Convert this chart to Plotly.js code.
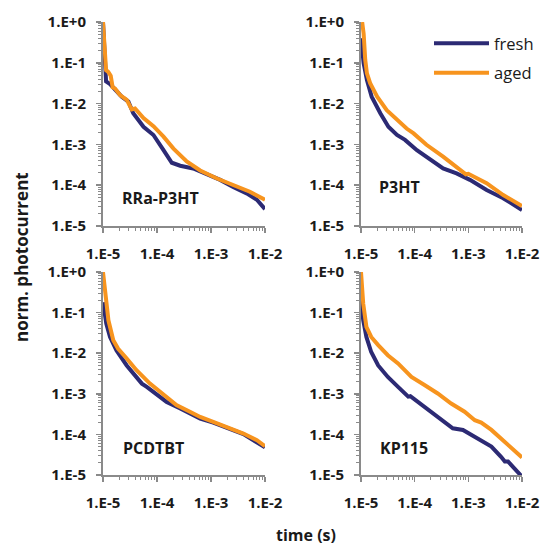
<!DOCTYPE html>
<html>
<head>
<meta charset="utf-8">
<script src="https://cdn.plot.ly/plotly-3.0.1.min.js"></script>
<style>html,body{margin:0;padding:0;background:#fff;}#chart{width:542px;height:546px;}</style>
</head>
<body>
<div id="chart"></div>
<script>
// ---- data (time in s, normalised photocurrent) ----
const panelNames = ["RRa-P3HT", "P3HT", "PCDTBT", "KP115"];
const seriesNames = ["fresh", "aged"];

// RRa-P3HT
const rraFreshT = [1.0e-5, 1.09e-5, 1.14e-5, 1.35e-5, 1.67e-5, 2.22e-5, 2.95e-5, 3.63e-5, 5.62e-5, 8.59e-5, 1.32e-4, 1.88e-4, 2.69e-4, 4.68e-4, 8.32e-4, 1.48e-3, 2.57e-3, 4.57e-3, 7.08e-3, 1.0e-2];
const rraFreshI = [1.0, 0.046, 0.035, 0.030, 0.0224, 0.0148, 0.0112, 0.0058, 0.0027, 0.0017, 7.2e-4, 3.55e-4, 3.0e-4, 2.57e-4, 1.86e-4, 1.35e-4, 9.1e-5, 6.3e-5, 4.4e-5, 2.6e-5];
const rraAgedT = [1.0e-5, 1.14e-5, 1.25e-5, 1.39e-5, 1.51e-5, 1.67e-5, 2.07e-5, 2.75e-5, 3.40e-5, 3.92e-5, 5.62e-5, 8.59e-5, 1.32e-4, 2.02e-4, 3.55e-4, 6.31e-4, 1.26e-3, 2.57e-3, 5.25e-3, 1.0e-2];
const rraAgedI = [1.0, 0.066, 0.060, 0.048, 0.025, 0.0234, 0.0162, 0.0123, 0.0072, 0.0076, 0.0044, 0.0028, 0.00155, 7.9e-4, 3.8e-4, 2.3e-4, 1.48e-4, 1.0e-4, 6.9e-5, 4.4e-5];

// P3HT
const p3htFreshT = [1.0e-5, 1.12e-5, 1.29e-5, 1.58e-5, 2.29e-5, 3.24e-5, 4.68e-5, 6.61e-5, 1.10e-4, 1.95e-4, 3.39e-4, 6.03e-4, 1.07e-3, 2.19e-3, 4.47e-3, 1.0e-2];
const p3htFreshI = [0.40, 0.098, 0.038, 0.0148, 0.0058, 0.0027, 0.0017, 0.00129, 7.2e-4, 4.2e-4, 2.57e-4, 1.95e-4, 1.35e-4, 7.6e-5, 4.8e-5, 2.45e-5];
const p3htAgedT = [1.05e-5, 1.12e-5, 1.20e-5, 1.29e-5, 1.48e-5, 2.0e-5, 3.02e-5, 4.68e-5, 7.08e-5, 9.55e-5, 1.66e-4, 3.39e-4, 6.03e-4, 9.0e-4, 1.0e-3, 2.19e-3, 4.47e-3, 1.0e-2];
const p3htAgedI = [1.0, 0.52, 0.117, 0.055, 0.0316, 0.0148, 0.0069, 0.0040, 0.00245, 0.00186, 9.8e-4, 5.0e-4, 2.8e-4, 1.85e-4, 1.9e-4, 1.12e-4, 5.75e-5, 3.1e-5];

// PCDTBT
const pcdFreshT = [1.0e-5, 1.15e-5, 1.35e-5, 1.78e-5, 2.75e-5, 4.17e-5, 5.25e-5, 6.46e-5, 1.0e-4, 1.51e-4, 2.69e-4, 4.68e-4, 6.31e-4, 1.10e-3, 1.95e-3, 3.98e-3, 1.0e-2];
const pcdFreshI = [0.18, 0.054, 0.025, 0.0117, 0.0050, 0.0026, 0.00178, 0.00148, 9.3e-4, 6.3e-4, 4.37e-4, 3.02e-4, 2.45e-4, 1.95e-4, 1.48e-4, 1.02e-4, 4.8e-5];
const pcdAgedT = [1.0e-5, 1.09e-5, 1.26e-5, 1.55e-5, 1.91e-5, 2.75e-5, 4.17e-5, 7.41e-5, 1.32e-4, 2.29e-4, 4.07e-4, 6.31e-4, 1.10e-3, 1.95e-3, 3.98e-3, 7.08e-3, 1.0e-2];
const pcdAgedI = [1.0, 0.355, 0.0646, 0.0209, 0.0129, 0.0074, 0.0038, 0.00178, 9.3e-4, 5.25e-4, 3.63e-4, 2.69e-4, 2.04e-4, 1.55e-4, 1.05e-4, 7.2e-5, 5.1e-5];

// KP115
const kpFreshT = [1.0e-5, 1.10e-5, 1.26e-5, 1.55e-5, 2.09e-5, 3.16e-5, 4.90e-5, 6.92e-5, 7.59e-5, 8.3e-5, 1.15e-4, 2.04e-4, 3.63e-4, 5.13e-4, 7.94e-4, 1.15e-3, 1.74e-3, 2.69e-3, 4.07e-3, 4.79e-3, 5.50e-3, 7.24e-3, 1.0e-2];
const kpFreshI = [0.20, 0.0646, 0.0251, 0.0107, 0.0050, 0.0026, 0.00148, 9.3e-4, 8.5e-4, 8.7e-4, 6.3e-4, 3.63e-4, 2.04e-4, 1.41e-4, 1.29e-4, 9.5e-5, 7.2e-5, 5.0e-5, 2.8e-5, 2.14e-5, 2.14e-5, 1.45e-5, 9.1e-6];
const kpAgedT = [1.0e-5, 1.10e-5, 1.26e-5, 1.55e-5, 2.09e-5, 3.16e-5, 4.90e-5, 8.71e-5, 1.55e-4, 2.69e-4, 4.79e-4, 8.51e-4, 1.32e-3, 1.74e-3, 2.69e-3, 4.79e-3, 7.24e-3, 1.0e-2];
const kpAgedI = [1.0, 0.166, 0.0447, 0.0251, 0.0158, 0.0089, 0.0056, 0.0026, 0.00162, 0.00102, 5.75e-4, 3.63e-4, 2.24e-4, 1.95e-4, 1.29e-4, 6.6e-5, 4.07e-5, 2.7e-5];

// tick labels
const xTickVals = [1e-5, 1e-4, 1e-3, 1e-2];
const xTickText = ["1.E-5", "1.E-4", "1.E-3", "1.E-2"];
const yTickVals = [1e-5, 1e-4, 1e-3, 1e-2, 1e-1, 1];
const yTickText = ["1.E-5", "1.E-4", "1.E-3", "1.E-2", "1.E-1", "1.E+0"];

const xTitle = "time (s)";
const yTitle = "norm. photocurrent";

// ---- styling ----
const FONT = "'Open Sans', Lato, sans-serif";
const NAVY = "#2c2a74";
const ORANGE = "#f7941e";
const AXC = "#8a8a8a";
const TXT = "#1a1a1a";

const panels = [
  {fresh: [rraFreshT, rraFreshI], aged: [rraAgedT, rraAgedI]},
  {fresh: [p3htFreshT, p3htFreshI], aged: [p3htAgedT, p3htAgedI]},
  {fresh: [pcdFreshT, pcdFreshI], aged: [pcdAgedT, pcdAgedI]},
  {fresh: [kpFreshT, kpFreshI], aged: [kpAgedT, kpAgedI]}
];

const W = 542, H = 546;
const xDom = [[103 / W, 265 / W], [361 / W, 522 / W], [103 / W, 265 / W], [361 / W, 522 / W]];
const yDom = [[1 - 226 / H, 1 - 22 / H], [1 - 226 / H, 1 - 22 / H], [1 - 475 / H, 1 - 272 / H], [1 - 475 / H, 1 - 272 / H]];

const traces = [];
panels.forEach((p, i) => {
  const s = i === 0 ? "" : String(i + 1);
  traces.push({
    x: p.fresh[0], y: p.fresh[1], xaxis: "x" + s, yaxis: "y" + s,
    type: "scatter", mode: "lines", name: seriesNames[0],
    line: {color: NAVY, width: 4}, showlegend: i === 0, legendgroup: "f"
  });
  traces.push({
    x: p.aged[0], y: p.aged[1], xaxis: "x" + s, yaxis: "y" + s,
    type: "scatter", mode: "lines", name: seriesNames[1],
    line: {color: ORANGE, width: 4}, showlegend: i === 0, legendgroup: "a"
  });
});

const tickFont = {family: FONT, size: 15, color: TXT, weight: "bold"};
const layout = {
  width: W, height: H,
  margin: {l: 0, r: 0, t: 0, b: 0},
  paper_bgcolor: "#fff", plot_bgcolor: "#fff",
  showlegend: true,
  legend: {
    x: 429 / W, y: 1 - 26 / H, xanchor: "left", yanchor: "top",
    font: {family: FONT, size: 16.5, color: TXT},
    bgcolor: "rgba(0,0,0,0)", itemwidth: 55, tracegroupgap: 5,
    traceorder: "grouped"
  },
  annotations: [],
  font: {family: FONT}
};

panels.forEach((p, i) => {
  const s = i === 0 ? "" : String(i + 1);
  layout["xaxis" + s] = {
    type: "log", domain: xDom[i], range: [-5, -2], anchor: "y" + s,
    tickmode: "array", tickvals: xTickVals, ticktext: xTickText,
    ticks: "outside", ticklen: 5, tickwidth: 1.5, tickcolor: AXC,
    showline: true, linecolor: AXC, linewidth: 2, showgrid: false, zeroline: false,
    tickfont: tickFont, ticklabelstandoff: 8,
    minor: {ticks: "outside", ticklen: 3, tickwidth: 1, tickcolor: AXC, dtick: "D1", showgrid: false}
  };
  layout["yaxis" + s] = {
    type: "log", domain: yDom[i], range: [-5, 0], anchor: "x" + s,
    tickmode: "array", tickvals: yTickVals, ticktext: yTickText,
    ticks: "outside", ticklen: 5, tickwidth: 1.5, tickcolor: AXC,
    showline: true, linecolor: AXC, linewidth: 2, showgrid: false, zeroline: false,
    tickfont: tickFont, ticklabelstandoff: 7,
    minor: {ticks: "outside", ticklen: 3, tickwidth: 1, tickcolor: AXC, dtick: "D1", showgrid: false}
  };
});

const labelPos = [[120, 198], [377, 187], [121, 448], [378, 448]];
panelNames.forEach((n, i) => {
  layout.annotations.push({
    text: n, xref: "paper", yref: "paper",
    x: labelPos[i][0] / W, y: 1 - labelPos[i][1] / H, xanchor: "left", yanchor: "middle",
    showarrow: false, font: {family: FONT, size: 16, color: TXT, weight: "bold"}
  });
});
layout.annotations.push({
  text: yTitle, xref: "paper", yref: "paper", x: 21 / W, y: 1 - 257 / H,
  xanchor: "center", yanchor: "middle", textangle: -90, showarrow: false,
  font: {family: FONT, size: 17, color: TXT, weight: "bold"}
});
layout.annotations.push({
  text: xTitle, xref: "paper", yref: "paper", x: 306 / W, y: 1 - 535 / H,
  xanchor: "center", yanchor: "middle", showarrow: false,
  font: {family: FONT, size: 16, color: TXT, weight: "bold"}
});

Plotly.newPlot("chart", traces, layout, {displayModeBar: false, staticPlot: true});
</script>
</body>
</html>
